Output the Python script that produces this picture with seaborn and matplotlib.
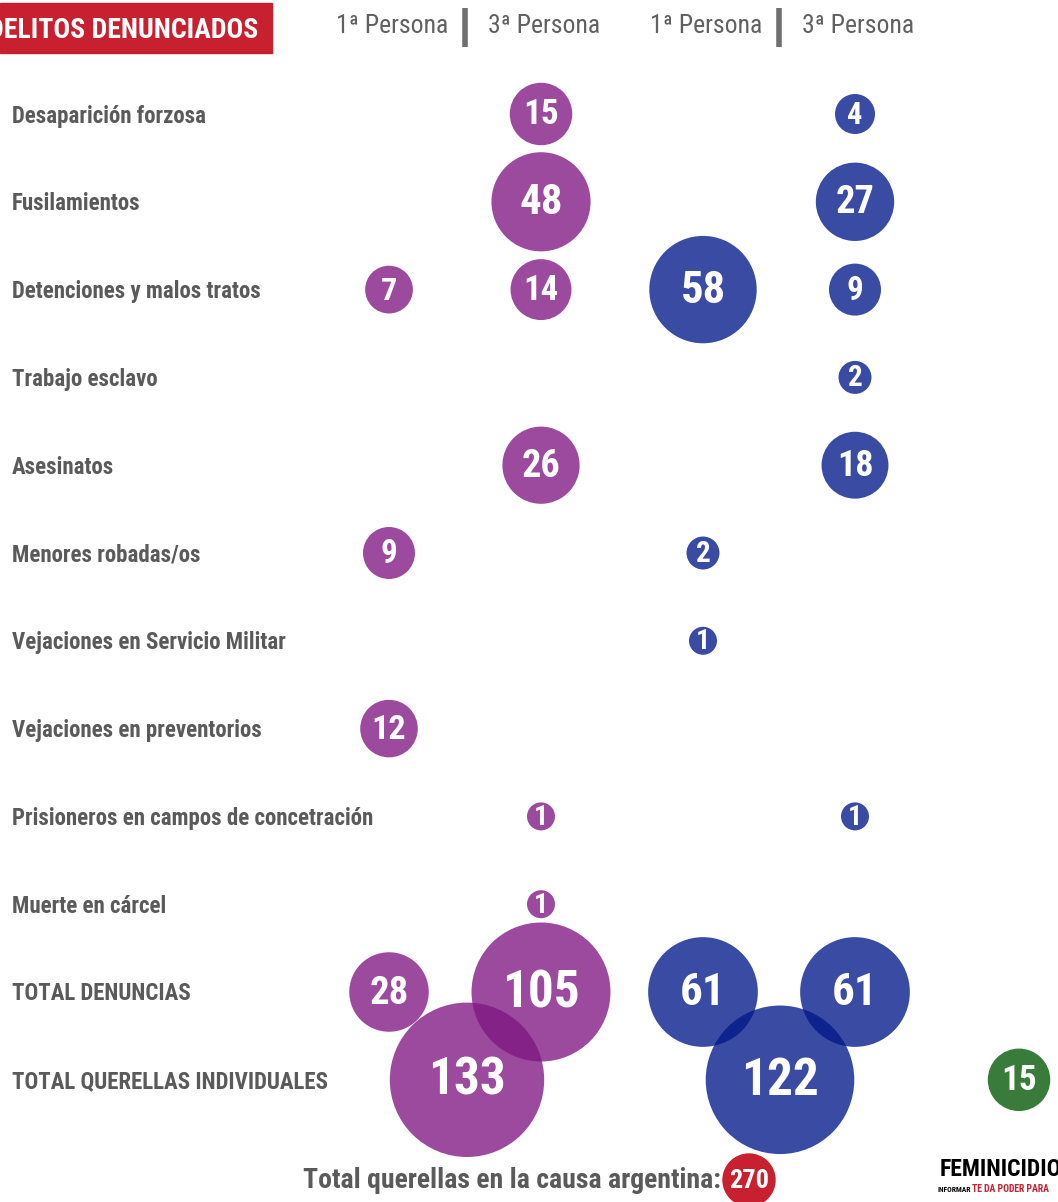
import numpy as np
import pandas as pd
import seaborn as sns
import matplotlib
matplotlib.use('Agg')
import matplotlib.pyplot as plt
from matplotlib import font_manager
from matplotlib.patches import Rectangle, Circle

nan = np.nan

# rows of the chart
delitos = ['Desaparición forzosa', 'Fusilamientos', 'Detenciones y malos tratos',
           'Trabajo esclavo', 'Asesinatos', 'Menores robadas/os',
           'Vejaciones en Servicio Militar', 'Vejaciones en preventorios',
           'Prisioneros en campos de concetración', 'Muerte en cárcel',
           'TOTAL DENUNCIAS', 'TOTAL QUERELLAS INDIVIDUALES']

# purple group (1a / 3a persona) and blue group (1a / 3a persona)
morado_1a = [nan, nan, 7, nan, nan, 9, nan, 12, nan, nan, 28]
morado_3a = [15, 48, 14, nan, 26, nan, nan, nan, 1, 1, 105]
azul_1a = [nan, nan, 58, nan, nan, 2, 1, nan, nan, nan, 61]
azul_3a = [4, 27, 9, 2, 18, nan, nan, nan, 1, nan, 61]

# total querellas individuales
querellas_cols = ['morado_q', 'azul_q', 'verde_q']
querellas = [133, 122, 15]

total_causa = 270
header_cols = ['1ª Persona', '3ª Persona', '1ª Persona', '3ª Persona']

# layout (pixels)
W, H = 1058, 1202
col_x = {'morado_1a': 389, 'morado_3a': 541, 'azul_1a': 703, 'azul_3a': 855,
         'morado_q': 467, 'azul_q': 780, 'verde_q': 1019}
row_y0, row_step = 114, 87.8
ALPHA = 0.78


def pick_font():
    # look for a condensed sans face, otherwise a plain one
    fonts = font_manager.fontManager.ttflist
    names = {f.name for f in fonts}
    for fam in ['Liberation Sans Narrow', 'Roboto Condensed', 'Open Sans Condensed']:
        if fam in names:
            return fam, 'normal', 1.0
    if any(f.name == 'DejaVu Sans' and 'condensed' in str(f.stretch) for f in fonts):
        return 'DejaVu Sans', 'condensed', 0.85
    if 'Roboto' in names:
        return 'Roboto', 'normal', 0.85
    return 'Liberation Sans', 'normal', 0.82


def base_colour(seen):
    # colour that, drawn with ALPHA over white, looks like `seen`
    rgb = np.array([int(seen[i:i + 2], 16) for i in (1, 3, 5)], dtype=float)
    base = (rgb - (1 - ALPHA) * 255) / ALPHA
    return tuple(np.clip(base, 0, 255) / 255)


morado = base_colour('#9B4A9E')
azul = base_colour('#3A4BA3')
verde = base_colour('#1E7B3A')
palette = {'morado_1a': morado, 'morado_3a': morado, 'morado_q': morado,
           'azul_1a': azul, 'azul_3a': azul, 'azul_q': azul, 'verde_q': verde}

records = []
for name, vals in [('morado_1a', morado_1a), ('morado_3a', morado_3a),
                   ('azul_1a', azul_1a), ('azul_3a', azul_3a)]:
    for i, v in enumerate(vals):
        if not np.isnan(v):
            records.append({'row': i, 'col': name, 'value': int(v)})
for name, v in zip(querellas_cols, querellas):
    records.append({'row': 11, 'col': name, 'value': v})
df = pd.DataFrame(records)

df['x'] = df['col'].map(col_x)
df['y'] = row_y0 + df['row'] * row_step
df['radius'] = 8 + 6 * np.sqrt(df['value'])        # pixels
df['area'] = (df['radius'] * 2 * 72 / 100) ** 2    # points^2
amin, amax = df['area'].min(), df['area'].max()

sns.set_style('white')
fam, stretch, k = pick_font()
plt.rcParams['font.family'] = [fam, 'DejaVu Sans']
plt.rcParams['font.stretch'] = stretch

fig = plt.figure(figsize=(W / 100, H / 100), dpi=100)
ax = fig.add_axes([0, 0, 1, 1])
ax.set_xlim(0, W)
ax.set_ylim(H, 0)
ax.axis('off')

sns.scatterplot(data=df, x='x', y='y', hue='col', palette=palette,
                size='area', sizes=(amin, amax), size_norm=(amin, amax),
                alpha=ALPHA, linewidth=0, legend=False, ax=ax, zorder=2)

for _, r in df.iterrows():
    fs = min(16 + 0.3 * r['radius'], 37) * k
    ax.text(r['x'], r['y'] + 1, str(r['value']), ha='center', va='center',
            color='white', fontsize=fs, fontweight='bold', zorder=3)

# row labels
grey = '#5a5a5a'
for i, lab in enumerate(delitos):
    ax.text(12, row_y0 + i * row_step + 2, lab, ha='left', va='center',
            fontsize=16.5 * k, fontweight='bold', color=grey)

# header
ax.add_patch(Rectangle((0, 3), 272, 50, color='#C8202F', zorder=1))
ax.text(-12, 30, 'DELITOS DENUNCIADOS', ha='left', va='center',
        fontsize=20 * k, fontweight='bold', color='white')
for lab, key in zip(header_cols, ['morado_1a', 'morado_3a', 'azul_1a', 'azul_3a']):
    ax.text(col_x[key] + 3, 26, lab, ha='center', va='center',
            fontsize=18.5 * k, color='#606060')
for xb in [465, 779]:
    ax.plot([xb, xb], [8, 47], color='#707070', lw=4, solid_capstyle='butt')

# footer
ax.text(721, 1180, 'Total querellas en la causa argentina:', ha='right', va='center',
        fontsize=20 * k, fontweight='bold', color='#5a5a5a')
ax.add_patch(Circle((749, 1180), 26, color='#C8202F', zorder=2))
ax.text(749, 1181, str(total_causa), ha='center', va='center', fontsize=19 * k,
        fontweight='bold', color='white', zorder=3)

# logo
ax.text(940, 1170, 'FEMINICIDIO', ha='left', va='center', fontsize=17 * k,
        fontweight='bold', color='black')
ax.text(938, 1189, 'INFORMAR', ha='left', va='center', fontsize=5.5 * k,
        fontweight='bold', color='black')
ax.text(972, 1189, 'TE DA PODER PARA', ha='left', va='center', fontsize=7 * k,
        fontweight='bold', color='#C8202F')

fig.savefig('out.png', dpi=100)
plt.close(fig)
